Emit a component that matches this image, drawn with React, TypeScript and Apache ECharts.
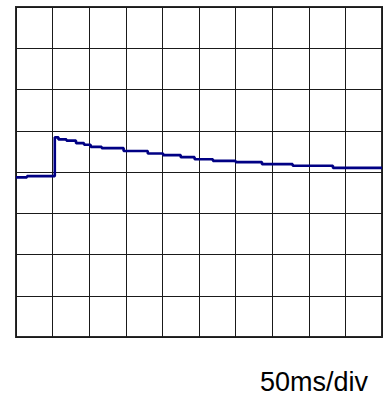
import React, { useEffect, useRef } from "react";
import * as echarts from "echarts";

// Oscilloscope-style trace: time in ms (50 ms per division), level in divisions
const timeMs = [0, 15, 53, 58, 69, 82, 93, 102, 117, 147, 180, 201, 225, 244, 269, 300, 336, 378, 433, 500];
const level = [3.87, 3.9, 4.84, 4.79, 4.76, 4.7, 4.66, 4.61, 4.58, 4.51, 4.45, 4.41, 4.36, 4.31, 4.27, 4.24, 4.19, 4.15, 4.1, 4.1];
const timeBaseLabel = "50ms/div";

export default function App() {
  const ref = useRef<HTMLDivElement>(null);

  useEffect(() => {
    if (!ref.current) return;
    const chart = echarts.init(ref.current, undefined, { renderer: "svg" });
    const gridColor = "#1a1a1a";
    chart.setOption({
      animation: false,
      backgroundColor: "#ffffff",
      grid: {
        left: 16,
        top: 7,
        width: 366,
        height: 330,
        show: true,
        borderColor: "#2b2b2b",
        borderWidth: 2,
        backgroundColor: "transparent",
      },
      xAxis: {
        type: "value",
        min: 0,
        max: 500,
        interval: 50,
        axisLine: { show: false },
        axisTick: { show: false },
        axisLabel: { show: false },
        splitLine: { show: true, lineStyle: { color: gridColor, width: 1 } },
      },
      yAxis: {
        type: "value",
        min: 0,
        max: 8,
        interval: 1,
        axisLine: { show: false },
        axisTick: { show: false },
        axisLabel: { show: false },
        splitLine: { show: true, lineStyle: { color: gridColor, width: 1 } },
      },
      series: [
        {
          type: "line",
          step: "end",
          showSymbol: false,
          data: timeMs.map((t, i) => [t, level[i]]),
          lineStyle: { color: "#000084", width: 2.6 },
          z: 5,
        },
      ],
      graphic: [
        {
          type: "text",
          left: 260,
          top: 368,
          style: {
            text: timeBaseLabel,
            fill: "#000000",
            font: "27px 'Liberation Sans', Arial, sans-serif",
          },
        },
      ],
    });
    return () => chart.dispose();
  }, []);

  return (
    <div
      ref={ref}
      style={{ position: "fixed", left: 0, top: 0, width: 385, height: 398 }}
    />
  );
}
